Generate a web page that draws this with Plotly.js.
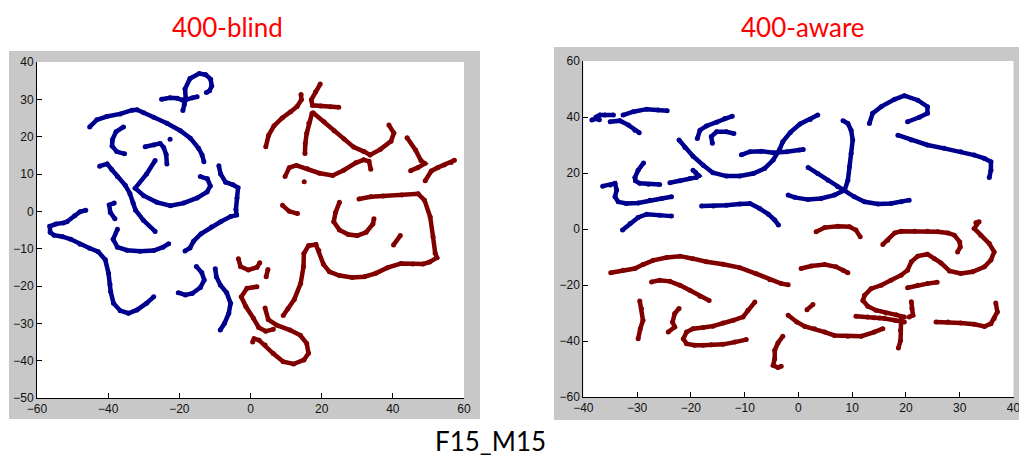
<!DOCTYPE html>
<html>
<head>
<meta charset="utf-8">
<script src="https://cdn.plot.ly/plotly-3.0.1.min.js"></script>
<style>html,body{margin:0;padding:0;background:#fff;}#chart{width:1019px;height:460px;}</style>
</head>
<body>
<div id="chart"></div>
<script>
// ---- 400-blind : blue class (segments separated by null) ----
const blindBlueX = [
 -45.2,-43.2,-40.4,-36.6,-33.3,-31.9,-30,-27.2,-23.5,-19.7,-16.9,-14.6,-13.6,-13.1, null,
 -19.0,-18.6,-18.2,-18.4,-17.0,-14.4,-12.6,-11.2,-10.9,-11.5,-12.4, null,
 -25,-22.6,-20.6,-19.2,-17.9,-16.3,-15.0, null,
 -35.7,-37.8,-38.8,-38.9,-37.6,-35.4, null,
 -29.6,-27.2,-25.4,-24.4,-23.7,-23.5, null,
 -22.6, null,
 -26.8,-29.2,-32.4,-30.0,-26.3,-22.5,-18.8,-15.0,-12.2,-11.3,-12.1,-14.1, null,
 -42.4,-40.3,-39.0,-37.4,-35.2,-33.9,-33.0,-32.3,-30.1,-26.8, null,
 -38.3,-39.7,-39.4,-38.1, null,
 -46.3,-47.9,-49.4,-51.6,-52.6,-54.7,-56.4,-56.3,-55.2,-52.8,-50.5,-47.9,-45.2,-42.8,-40.8,-39.9,-39.5,-39.3,-38.5,-36.6,-34.3,-31.9,-29.2,-27.2, null,
 -37.4,-38.6,-37.4,-34.7,-31.0,-27.2,-24.6,-23.0, null,
 -8.9,-8.4,-7.0,-4.9,-3.5,-3.8,-4.1,-3.9,-5.6,-8.4,-11.0,-13.9,-16.0,-17.0,-18.4, null,
 -15.2,-13.7,-13.0,-14.1,-16.4,-18.3,-20.3, null,
 -9.9,-9.6,-8.5,-6.7,-5.6,-6.1,-7.3,-8.5
];
const blindBlueY = [
 22.6,24.5,25.4,26.1,27.1,27.2,26.4,25.2,23.6,21.6,19.6,16.9,15.1,13.3, null,
 27.0,28.6,30.2,32.8,35.6,36.9,36.6,35.4,33.6,32.3,31.8, null,
 30.0,30.4,30.3,29.8,30.0,30.4,30.7, null,
 22.6,21.3,19.2,17.5,16.0,15.4, null,
 17.3,17.8,18.2,17.1,15.2,12.7, null,
 19.3, null,
 13.6,10.0,6.2,4.2,2.4,1.5,2.2,3.6,5.2,6.8,8.7,9.3, null,
 12.1,12.7,11.2,9.3,7.0,4.8,2.2,0.3,-2.4,-5.4, null,
 2.2,1.7,-0.3,-2.0, null,
 0.3,-0.1,-1.2,-2.8,-3.1,-3.4,-4.0,-5.6,-6.4,-6.8,-7.5,-8.8,-9.9,-10.8,-13.0,-16.6,-19.5,-21.5,-24.6,-26.6,-27.3,-26.4,-24.6,-22.9, null,
 -4.8,-7.5,-9.6,-10.4,-10.7,-10.5,-9.6,-8.7, null,
 12.2,10.0,7.8,7.1,6.3,3.6,0.5,-1.0,-1.4,-2.8,-4.2,-6.0,-8.0,-9.8,-10.6, null,
 -14.8,-16.4,-18.4,-20.4,-22.0,-22.4,-21.8, null,
 -15.4,-17.5,-19.7,-21.8,-24.6,-27.3,-30.0,-31.8
];

// ---- 400-blind : red class ----
const blindRedX = [
 4.3,5.1,6.6,8.9,11.3,13.1,14.3,14.2, null,
 19.6,18.3,17.1,17.4,19.7,22.5,24.8, null,
 17.3,16.4,15.8,15.4,15.3, null,
 17.6,20.7,23.5,26.3,29.0,31.9,33.6,36.5,39.5,40.3,38.9, null,
 9.7,10.9,12.9,16.0,19.4,23.1,26.2,29.6,31.8,33.3,33.8, null,
 15.1, null,
 44.0,46.4,47.9,49.0,47.0,45.0, null,
 49.1,50.8,52.6,54.4,56.4,57.3, null,
 9.0,10.9,13.2, null,
 25.0,23.9,23.4,25.0,27.5,30.0,32.5,34.4,34.7, null,
 40.2,42.1, null,
 30.5,33.8,37.3,42.5,47.1,48.9,50.5,51.3,51.9,52.4,50.3,48.5,45.6,42.3,38.5,35.2,32.0,28.6,25.0,22.2,20.5,19.2,18.4,16.3,15.0,14.9,14.1,12.3,10.5,9.2, null,
 -3.4,-2.8,-0.6,1.8,2.6, null,
 4.9,4.4, null,
 1.8,-1.0,-2.6,-1.3,0.8,2.3,4.3,6.4, null,
 4.1,5.0,7.4,11.1,14.0,15.8,16.3,15.0,12.1,9.2,6.4,4.1,2.4,1.0,0.6
];
const blindRedY = [
 17.3,20.4,22.9,25.0,26.7,28.1,29.9,31.3, null,
 34.1,32.0,29.9,28.4,28.2,28.0,27.9, null,
 26.3,23.6,20.9,18.2,15.5, null,
 26.4,24.0,21.6,19.4,17.2,16.0,15.1,16.6,18.8,21.0,23.1, null,
 9.3,11.7,12.3,11.4,10.2,9.6,11.0,13.0,13.8,13.4,11.3, null,
 7.9, null,
 19.7,16.4,13.6,12.8,11.7,10.9, null,
 8.2,10.8,11.7,12.4,13.1,13.7, null,
 1.6,0.0,-0.6, null,
 2.4,-0.3,-2.8,-5.0,-6.2,-6.5,-5.6,-3.4,-2.0, null,
 -9.0,-6.5, null,
 3.3,3.9,4.1,4.4,4.7,3.0,-1.5,-6.8,-11.2,-12.4,-13.6,-14.1,-14.1,-14.0,-15.1,-16.6,-17.5,-17.7,-17.2,-16.2,-14.2,-10.5,-8.9,-9.2,-11.3,-14.8,-19.3,-23.6,-26.1,-27.9, null,
 -12.7,-14.8,-15.7,-15.0,-13.8, null,
 -15.6,-17.5, null,
 -20.2,-20.6,-22.9,-25.5,-28.6,-31.1,-32.1,-31.6, null,
 -25.9,-29.0,-30.5,-31.8,-33.2,-35.4,-38.0,-39.8,-40.9,-40.3,-38.1,-35.8,-34.5,-34.1,-35.0
];

// ---- 400-aware : blue class ----
const awareBlueX = [
 -38.4,-37.8,-37.0,-37.5,-36.9,-36.0,-34.4, null,
 -32.6,-30.7,-28.2,-26.1,-24.4, null,
 -35.0,-33.2,-31.6,-30.4,-29.6, null,
 -18.8,-18.3,-17.1,-15.2,-13.7,-12.3, null,
 -16.0,-16.2,-15.2,-13.4,-12.0, null,
 -22.2,-21.1,-19.6,-17.7,-15.9,-13.4,-10.9,-8.4,-6.3,-4.7,-3.5,-2.9,-1.5,0.3,2.2,3.6, null,
 -10.6,-9.0,-6.9,-4.7,-2.2,0.2,0.9, null,
 -28.8,-29.8,-30.4,-30.3,-29.5,-27.9,-25.8, null,
 -23.9,-22.0,-20.2,-19.0,-18.5,-19.1,-19.6, null,
 -36.4,-35.0,-34.1,-33.8,-34.1,-33.5,-32.0,-29.8,-27.6,-25.4,-23.6, null,
 -32.7,-31.3,-29.8,-28.2,-25.8,-23.6, null,
 -18.0,-15.8,-13.4,-10.9,-9.0,-7.2,-5.6,-4.4,-3.7, null,
 8.3,9.2,9.8,10.1,9.8,9.5,9.2,8.6,6.7,4.2,1.8,-0.7,-1.9, null,
 1.8,3.6,5.5,7.3,8.6,10.4,12.3,14.8,17.2,19.1,20.6, null,
 13.2,13.8,15.4,17.9,19.7,22.2,24.0,24.0,22.5,20.3, null,
 18.5,21.0,24.0,27.1,30.2,32.7,34.6,35.8,35.8,35.5
];
const awareBlueY = [
 38.9,39.4,39.0,40.1,40.7,40.7,40.7, null,
 40.7,41.9,42.8,42.5,42.2, null,
 38.3,38.7,37.1,35.3,34.4, null,
 32.3,35.3,36.8,38.1,39.5,40.3, null,
 30.6,33.0,34.7,34.7,34.1, null,
 31.8,29.1,26.0,22.8,20.1,18.9,18.9,19.8,21.6,24.6,28.4,31.2,34.5,37.5,39.1,40.7, null,
 26.5,27.6,27.8,27.2,27.6,28.2,28.4, null,
 23.6,21.0,18.4,17.2,16.3,16.0,15.9, null,
 16.5,17.2,18.0,18.4,19.0,20.2,21.0, null,
 15.3,15.7,16.3,13.9,11.5,9.7,9.1,9.3,10.3,10.9,11.5, null,
 -0.4,2.0,4.1,5.3,4.9,4.6, null,
 8.2,8.2,8.5,8.9,9.1,7.3,5.3,3.2,1.4, null,
 38.7,37.7,35.3,31.8,27.0,22.2,17.4,13.9,12.1,10.9,10.5,11.3,12.1, null,
 22.0,19.8,17.4,15.1,13.9,11.5,9.7,8.9,9.1,9.7,10.3, null,
 37.7,41.3,43.7,46.3,47.6,46.0,43.7,41.3,39.9,38.3, null,
 33.5,31.8,30.0,28.8,27.6,26.4,25.2,24.0,21.0,18.4
];

// ---- 400-aware : red class ----
const awareRedX = [
 -34.9,-32.6,-30.4,-28.9,-27.0,-24.5,-22.0,-19.6,-17.1,-14.0,-10.9,-7.8,-5.3,-3.2,-1.9, null,
 -27.3,-25.8,-23.9,-22.0,-20.2,-18.3,-16.6, null,
 -29.5,-29.2,-28.9,-29.4,-29.8, null,
 -22.2,-23.0,-23.4,-23.0,-24.2, null,
 -8.1,-9.4,-10.3,-12.1,-14.0,-15.9,-17.7,-19.6,-20.8,-21.4,-20.8,-19.3,-17.7,-16.2,-14.0,-11.8,-9.7, null,
 -2.9,-3.8,-4.4,-4.4,-4.7,-3.8,-3.2, null,
 3.3,4.9,7.3,9.5,10.7,11.5, null,
 15.7,16.6,17.9,19.1,21.6,24.0,25.9,27.8,29.0,30.0,30.1,29.6, null,
 33.0,33.6,32.7,33.9,35.5,36.4,35.8,34.6,32.4,30.2,28.1,26.5,25.3,24.0,22.2,21.0,20.3,19.1,17.2,15.4,13.5,12.3,12.0,12.9,14.4,16.3,18.2,19.7, null,
 20.3,22.2,24.0,25.8, null,
 2.7,1.6, null,
 0.5,2.4,4.9,7.0,8.3,9.2, null,
 -1.9,-0.3,1.2,3.0,4.9,6.7,9.2,11.7,14.1,15.7, null,
 10.7,12.9,14.1,15.1,16.0,17.9,19.7, null,
 19.1,19.0,19.0,18.6, null,
 21.0,21.1,21.3,20.6, null,
 25.6,27.8,30.2,32.7,34.6,35.8,36.4,37.0,36.7
];
const awareRedY = [
 -15.6,-14.7,-14.1,-12.7,-11.2,-10.2,-9.7,-10.6,-11.7,-12.6,-13.8,-16.0,-18.1,-19.5,-19.9, null,
 -18.9,-18.3,-18.7,-20.1,-21.9,-24.0,-25.5, null,
 -25.7,-28.4,-32.6,-35.6,-39.2, null,
 -28.4,-30.2,-33.2,-35.0,-36.8, null,
 -26.1,-29.0,-31.4,-32.6,-33.6,-34.7,-35.2,-35.6,-36.8,-39.2,-41.0,-41.5,-41.5,-41.3,-41.2,-40.4,-39.5, null,
 -38.3,-40.7,-43.3,-46.3,-48.7,-49.5,-49.0, null,
 -1.0,0.5,1.0,0.8,-0.4,-2.8, null,
 -5.5,-4.0,-1.4,-0.8,-0.8,-0.8,-1.0,-1.4,-2.2,-4.6,-6.4,-8.2, null,
 2.2,2.6,0.2,-2.2,-5.2,-8.2,-11.1,-13.5,-15.3,-15.9,-15.0,-12.1,-10.6,-9.0,-9.7,-11.7,-14.7,-16.5,-18.3,-20.1,-21.3,-23.7,-25.5,-27.6,-29.0,-30.0,-30.6,-31.4, null,
 -21.0,-20.1,-19.5,-19.0, null,
 -27.0,-28.8, null,
 -14.1,-13.2,-12.7,-13.5,-14.7,-15.6, null,
 -30.8,-33.2,-34.8,-35.6,-36.8,-38.0,-38.3,-38.3,-36.8,-35.6, null,
 -31.2,-31.4,-31.7,-31.8,-32.0,-32.6,-33.2, null,
 -32.0,-36.2,-39.8,-42.5, null,
 -26.0,-28.4,-30.8,-31.4, null,
 -33.2,-33.2,-33.6,-34.0,-34.8,-33.8,-32.0,-29.6,-26.4
];

const panelTitles = ["400-blind", "400-aware"];
const figureLabel = "F15_M15";

const BLUE = "#00008F", RED = "#800000";
const W = 1019, H = 460;
const px = v => v / W, py = v => 1 - v / H;

function tr(x, y, color, xa, ya) {
  return {
    x: x, y: y, xaxis: xa, yaxis: ya, type: "scatter", mode: "lines+markers",
    line: {color: color, width: 4.5},
    marker: {color: color, size: 5, symbol: "circle"},
    connectgaps: false, hoverinfo: "skip", showlegend: false
  };
}

const data = [
  tr(blindBlueX, blindBlueY, BLUE, "x", "y"),
  tr(blindRedX, blindRedY, RED, "x", "y"),
  tr(awareBlueX, awareBlueY, BLUE, "x2", "y2"),
  tr(awareRedX, awareRedY, RED, "x2", "y2")
];

const axBase = {
  showgrid: false, zeroline: false, showline: true, linecolor: "#000", linewidth: 1,
  ticks: "inside", ticklen: 5, tickcolor: "#000", tickwidth: 1,
  tickfont: {family: "Liberation Sans, Arial, sans-serif", size: 12, color: "#111"},
  ticklabeloverflow: "allow",
  fixedrange: true
};

const layout = {
  width: W, height: H,
  margin: {l: 0, r: 0, t: 0, b: 0},
  paper_bgcolor: "#ffffff", plot_bgcolor: "rgba(0,0,0,0)",
  xaxis: Object.assign({}, axBase, {domain: [px(37), px(464)], range: [-60, 60], dtick: 20, anchor: "y"}),
  yaxis: Object.assign({}, axBase, {domain: [py(398), py(62)], range: [-50, 40], dtick: 10, anchor: "x"}),
  xaxis2: Object.assign({}, axBase, {domain: [px(583.3), px(1013.5)], range: [-40, 40], dtick: 10, anchor: "y2"}),
  yaxis2: Object.assign({}, axBase, {domain: [py(397), py(61)], range: [-60, 60], dtick: 20, anchor: "x2"}),
  shapes: [
    {type: "rect", xref: "paper", yref: "paper", x0: px(9), x1: px(480), y0: py(419), y1: py(51), fillcolor: "#c8c8c8", line: {width: 0}, layer: "below"},
    {type: "rect", xref: "paper", yref: "paper", x0: px(554), x1: 1, y0: py(420), y1: py(47), fillcolor: "#c8c8c8", line: {width: 0}, layer: "below"},
    {type: "rect", xref: "paper", yref: "paper", x0: px(37), x1: px(464), y0: py(398), y1: py(62), fillcolor: "#ffffff", line: {width: 0}, layer: "below"},
    {type: "rect", xref: "paper", yref: "paper", x0: px(583.3), x1: px(1013.5), y0: py(397), y1: py(61), fillcolor: "#ffffff", line: {width: 0}, layer: "below"}
  ],
  annotations: [
    {text: panelTitles[0], xref: "paper", yref: "paper", x: px(227), y: py(27), xanchor: "center", yanchor: "middle", showarrow: false,
     font: {family: "Lato, 'Open Sans', sans-serif", size: 26, color: "#ff0000"}},
    {text: panelTitles[1], xref: "paper", yref: "paper", x: px(803), y: py(27), xanchor: "center", yanchor: "middle", showarrow: false,
     font: {family: "Lato, 'Open Sans', sans-serif", size: 26, color: "#ff0000"}},
    {text: figureLabel, xref: "paper", yref: "paper", x: px(490), y: py(441), xanchor: "center", yanchor: "middle", showarrow: false,
     font: {family: "Lato, 'Open Sans', sans-serif", size: 26, color: "#000000"}}
  ]
};

Plotly.newPlot("chart", data, layout, {displayModeBar: false, staticPlot: true});
</script>
</body>
</html>
